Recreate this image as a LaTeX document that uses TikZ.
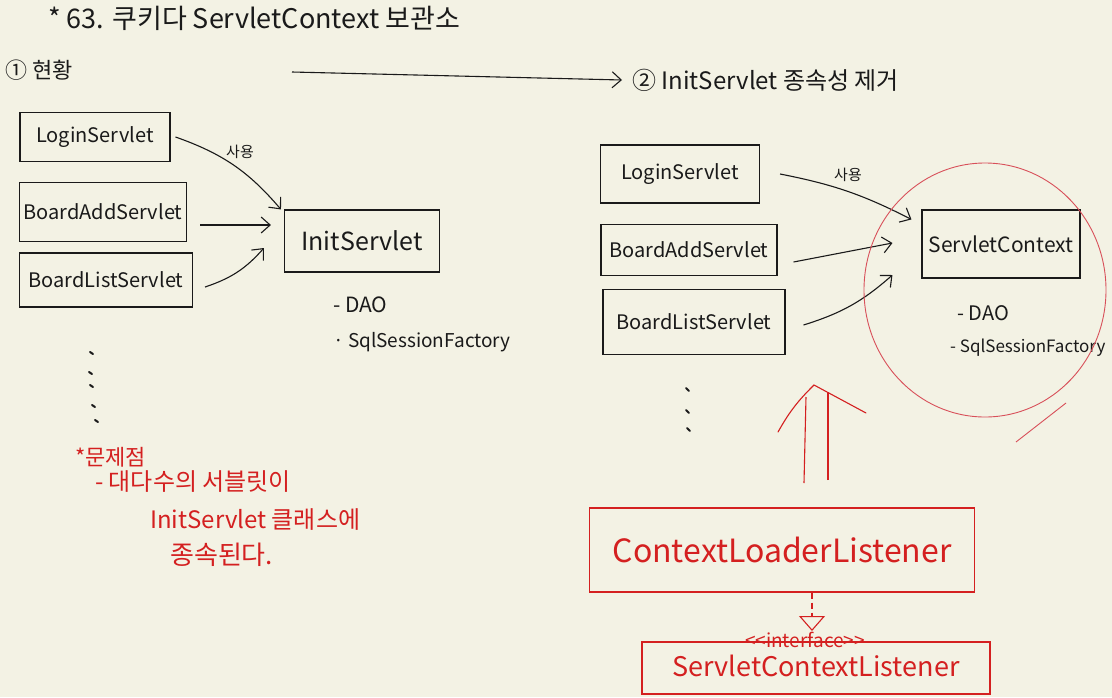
\documentclass[tikz,border=0pt]{standalone}
\usepackage{fontspec}
\setmainfont{Noto Sans CJK KR}
\usetikzlibrary{arrows.meta}
\definecolor{bg}{HTML}{F3F2E4}
\definecolor{pen}{HTML}{1A1A1A}
\definecolor{redpen}{HTML}{D42020}
\definecolor{circ}{HTML}{D8505A}
\tikzset{
  box/.style={draw=pen, line width=1.1pt, inner sep=0pt, text=pen, font=\fontsize{20}{22}\selectfont},
  rbox/.style={draw=redpen, line width=1.1pt, inner sep=0pt, text=redpen},
  txt/.style={text=pen, inner sep=0pt, anchor=west, font=\fontsize{19}{21}\selectfont},
  rtxt/.style={text=redpen, inner sep=0pt, anchor=west, font=\fontsize{24}{26}\selectfont},
  arr/.style={draw=pen, line width=1.1pt, -{Straight Barb[length=9pt,width=16pt,line width=1.1pt]}},
  dotmark/.style={draw=pen, line width=2pt, line cap=round},
}
\begin{document}
\begin{tikzpicture}[x=1pt,y=-1pt]
\fill[bg] (0,0) rectangle (1112,697);
\useasboundingbox (0,0) rectangle (1112,697);

% title
\node[txt, font=\fontsize{27}{29}\selectfont] (title) at (48,18) {* 63. 쿠키다 ServletContext 보관소};
\node[txt, font=\fontsize{22}{24}\selectfont] (s1) at (5,70) {① 현황};
\node[txt, font=\fontsize{24}{26}\selectfont] (s2) at (632,80) {② InitServlet 종속성 제거};
\coordinate (ta) at (292,72);
\draw[arr] (ta) -- ([xshift=-10pt]s2.west);

% left: current state
\node[box, minimum width=150, minimum height=49] (l1) at (95,137) {LoginServlet};
\node[box, minimum width=167, minimum height=59] (l2) at (103,212) {BoardAddServlet};
\node[box, minimum width=173, minimum height=54] (l3) at (106,280) {BoardListServlet};
\node[box, minimum width=155, minimum height=62, font=\fontsize{25}{27}\selectfont] (init) at (362,241) {InitServlet};
\node[text=pen, font=\fontsize{15}{17}\selectfont] (use1) at (240,152) {사용};
\draw[arr] ([xshift=5pt]l1.east) to[bend left=15] ([xshift=-3pt]init.north west);
\draw[arr] ([xshift=13pt,yshift=-13pt]l2.east) -- ([xshift=-13pt,yshift=16pt]init.west);
\draw[arr] ([xshift=12pt,yshift=-7pt]l3.east) to[bend right=15] ([xshift=-20pt,yshift=-7pt]init.west);
\node[txt, font=\fontsize{21}{23}\selectfont] (dao1) at (333,305) {- DAO};
\node[txt] (ssf1) at (333,342) {· SqlSessionFactory};
\foreach \p/\q in {90/352, 89/372, 90/385, 92/405, 95/420}
  \draw[dotmark] (\p,\q) -- ++(3,2);

% problem note
\node[rtxt, font=\fontsize{22}{24}\selectfont] (p0) at (75,457) {*문제점};
\node[rtxt] (p1) at (95,482) {- 대다수의 서블릿이};
\node[rtxt] (p2) at (150,520) {InitServlet 클래스에};
\node[rtxt, font=\fontsize{26}{28}\selectfont] (p3) at (170,555) {종속된다.};

% right: after refactoring
\node[box, minimum width=159, minimum height=58] (r1) at (680,174) {LoginServlet};
\node[box, minimum width=176, minimum height=51] (r2) at (689,250) {BoardAddServlet};
\node[box, minimum width=182, minimum height=65] (r3) at (694,322) {BoardListServlet};
\node[box, minimum width=158, minimum height=68, font=\fontsize{21}{23}\selectfont] (sc) at (1001,244) {ServletContext};
\node[text=pen, font=\fontsize{15}{17}\selectfont] (use2) at (848,175) {사용};
\draw[arr] ([xshift=20pt]r1.east) to[bend left=8] ([xshift=-10pt,yshift=-10pt]sc.north west);
\draw[arr] ([xshift=16pt,yshift=-12pt]r2.east) -- ([xshift=-29pt,yshift=1pt]sc.west);
\draw[arr] ([xshift=18pt,yshift=-3pt]r3.east) to[bend right=12] ([xshift=-29pt,yshift=-31pt]sc.west);
\node[txt, font=\fontsize{20}{22}\selectfont] (dao2) at (957,313) {- DAO};
\node[txt, font=\fontsize{17}{19}\selectfont] (ssf2) at (950,348) {- SqlSessionFactory};
\foreach \p/\q in {686/388, 686/410, 687/428}
  \draw[dotmark] (\p,\q) -- ++(3,3);

% red circle
\draw[circ, line width=0.9pt] (985,290) ellipse [x radius=121, y radius=127];
\draw[circ, line width=0.9pt] (1066,403) -- (1016,442);

% ContextLoaderListener
\node[rbox, minimum width=385, minimum height=84, font=\fontsize{32}{34}\selectfont] (cll) at (782,550) {ContextLoaderListener};
\coordinate (up1) at (804,483);
\coordinate (up2) at (828,480);
\draw[redpen, line width=1.1pt] (up1) -- (806,397);
\draw[redpen, line width=1.1pt] (up2) -- (828,392);
\draw[redpen, line width=1.1pt, line cap=round] (778,432) to[bend left=8] (814,385) -- (866,413);

% ServletContextListener
\node[rbox, minimum width=348, minimum height=52, font=\fontsize{27}{29}\selectfont, text depth=5pt] (iface) at (816,668) {ServletContextListener};
\node[text=redpen, inner sep=0pt, font=\fontsize{19}{20}\selectfont] (stereo) at (805,640) {{<}{<}interface{>}{>}};
\draw[redpen, line width=1.1pt, dash pattern=on 6pt off 4pt, -{Triangle[open, length=15pt, width=26pt, line width=1.1pt]}] ([xshift=30pt]cll.south) -- (812,631);
\end{tikzpicture}
\end{document}
